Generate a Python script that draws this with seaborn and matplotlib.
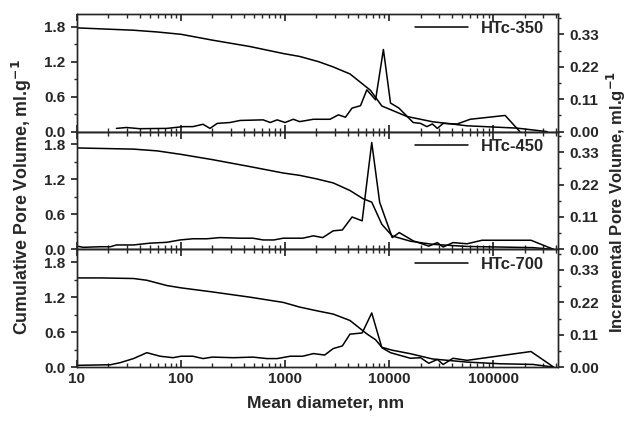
import matplotlib
matplotlib.use("Agg")
import matplotlib.pyplot as plt
from matplotlib.ticker import FixedLocator, MultipleLocator, FuncFormatter, NullFormatter, LogLocator
import seaborn as sns

# --- data (pore diameter in nm) ---
SAMPLES = ["HTc-350", "HTc-450", "HTc-700"]

cum_350_x = [10, 35, 59, 100, 200, 460, 960, 1380, 2100, 2900, 4200, 6600, 8500,
             14800, 26000, 56000, 170000, 330000]
cum_350_y = [1.78, 1.74, 1.71, 1.67, 1.57, 1.46, 1.34, 1.29, 1.20, 1.11, 0.99, 0.71,
             0.44, 0.26, 0.17, 0.10, 0.06, 0.0]
inc_350_x = [24, 30, 40, 73, 105, 130, 163, 190, 223, 296, 370, 616, 720, 840, 1000,
             1200, 1380, 1870, 2700, 3250, 3800, 4400, 5300, 6100, 7400, 8800, 10300,
             12400, 17000, 20000, 23000, 26000, 29000, 33000, 45000, 60000, 130000, 180000]
inc_350_y = [0.011, 0.014, 0.010, 0.011, 0.017, 0.017, 0.025, 0.011, 0.028, 0.031,
             0.038, 0.040, 0.031, 0.040, 0.031, 0.042, 0.034, 0.042, 0.042, 0.057,
             0.049, 0.080, 0.088, 0.142, 0.108, 0.279, 0.097, 0.080, 0.031, 0.028,
             0.017, 0.026, 0.011, 0.028, 0.026, 0.042, 0.055, 0.0]

cum_450_x = [10, 35, 59, 100, 200, 460, 960, 1380, 2000, 2900, 4200, 5600, 6800, 8500,
             10700, 16000, 26000, 56000, 240000, 380000]
cum_450_y = [1.74, 1.72, 1.69, 1.63, 1.54, 1.42, 1.31, 1.27, 1.21, 1.14, 1.01, 0.87,
             0.81, 0.43, 0.23, 0.14, 0.087, 0.05, 0.03, 0.0]
inc_450_x = [10, 11.5, 17, 21, 24, 35, 50, 73, 98, 130, 177, 237, 370, 490, 616, 780,
             960, 1480, 1870, 2300, 2900, 3550, 4400, 5500, 6800, 8100, 10700, 12500,
             17000, 24000, 29000, 33000, 41000, 56000, 78000, 230000, 380000]
inc_450_y = [0.011, 0.007, 0.009, 0.009, 0.015, 0.015, 0.021, 0.024, 0.032, 0.036,
             0.036, 0.040, 0.038, 0.038, 0.032, 0.032, 0.038, 0.038, 0.046, 0.040,
             0.063, 0.066, 0.110, 0.097, 0.363, 0.160, 0.040, 0.057, 0.029, 0.011,
             0.023, 0.008, 0.023, 0.019, 0.031, 0.031, 0.0]

cum_700_x = [10, 17, 35, 47, 73, 100, 200, 460, 960, 1380, 2100, 2900, 4200, 6100,
             7400, 8500, 10700, 16000, 26000, 56000, 117000, 240000, 380000]
cum_700_y = [1.53, 1.53, 1.52, 1.49, 1.40, 1.36, 1.29, 1.20, 1.11, 1.03, 0.96, 0.91,
             0.80, 0.57, 0.47, 0.34, 0.29, 0.23, 0.14, 0.086, 0.057, 0.046, 0.0]
inc_700_x = [10, 21, 26, 35, 47, 63, 84, 100, 130, 163, 200, 320, 490, 670, 840, 1120,
             1480, 1870, 2400, 2900, 3550, 4200, 5500, 6800, 8500, 10300, 16000, 20000,
             24000, 29000, 33000, 41000, 56000, 230000, 380000]
inc_700_y = [0.006, 0.008, 0.015, 0.029, 0.049, 0.037, 0.032, 0.037, 0.037, 0.029,
             0.034, 0.032, 0.034, 0.029, 0.029, 0.037, 0.037, 0.046, 0.041, 0.063,
             0.072, 0.112, 0.116, 0.184, 0.066, 0.049, 0.030, 0.032, 0.013, 0.026,
             0.009, 0.030, 0.023, 0.053, 0.0]

CUM = [(cum_350_x, cum_350_y), (cum_450_x, cum_450_y), (cum_700_x, cum_700_y)]
INC = [(inc_350_x, inc_350_y), (inc_450_x, inc_450_y), (inc_700_x, inc_700_y)]

LEFT_TICKS = [0.0, 0.6, 1.2, 1.8]
RIGHT_TICKS = [0.0, 0.11, 0.22, 0.33]
X_TICKS = [10, 100, 1000, 10000, 100000]

sns.set_theme(style="ticks")
plt.rcParams.update({
    "font.family": ["Liberation Sans", "DejaVu Sans"],
    "font.weight": "bold",
    "font.size": 11,
    "axes.linewidth": 1.0,
    "xtick.direction": "in",
    "ytick.direction": "out",
    "xtick.major.size": 5,
    "xtick.minor.size": 3,
    "ytick.major.size": 4.5,
    "ytick.minor.size": 2.5,
})

fig, axes = plt.subplots(3, 1, sharex=True, figsize=(6.3, 4.21), dpi=100)
fig.subplots_adjust(left=0.122, right=0.886, top=0.967, bottom=0.128, hspace=0)

for ax, name, (cx, cy), (ix, iy) in zip(axes, SAMPLES, CUM, INC):
    ax2 = ax.twinx()
    sns.lineplot(x=cx, y=cy, ax=ax, color="black", lw=1.1, estimator=None,
                 sort=False, label=name)
    sns.lineplot(x=ix, y=iy, ax=ax2, color="black", lw=1.1, estimator=None,
                 sort=False, legend=False)

    ax.set_xscale("log")
    ax.set_xlim(10, 4.2e5)
    ax.set_ylim(0, 2.02)
    ax2.set_ylim(0, 0.40)

    ax.yaxis.set_major_locator(FixedLocator(LEFT_TICKS))
    ax.yaxis.set_minor_locator(MultipleLocator(0.3))
    ax.yaxis.set_major_formatter(FuncFormatter(lambda v, p: f"{v:.1f}"))
    ax2.yaxis.set_major_locator(FixedLocator(RIGHT_TICKS))
    ax2.yaxis.set_minor_locator(MultipleLocator(0.055))
    ax2.yaxis.set_major_formatter(FuncFormatter(lambda v, p: f"{v:.2f}"))

    ax.xaxis.set_major_locator(FixedLocator(X_TICKS))
    ax.xaxis.set_minor_locator(LogLocator(base=10, subs=range(2, 10), numticks=20))
    ax.xaxis.set_minor_formatter(NullFormatter())
    ax.xaxis.set_major_formatter(FuncFormatter(lambda v, p: f"{int(round(v))}"))
    ax.tick_params(axis="x", which="both", top=True)
    ax.tick_params(axis="both", which="major", labelsize=11)
    ax2.tick_params(axis="y", which="major", labelsize=11)
    for lab in ax.get_yticklabels() + ax2.get_yticklabels() + ax.get_xticklabels():
        lab.set_fontweight("bold")

    ax.set_xlabel("")
    ax.set_ylabel("")
    ax2.set_ylabel("")
    ax.legend(loc="upper right", bbox_to_anchor=(0.985, 0.995), frameon=False,
              handlelength=3.2, borderaxespad=0, prop={"weight": "bold", "size": 12})

fig.text(0.035, 0.532, "Cumulative Pore Volume, ml.g$^{\\mathbf{-1}}$", rotation=90,
         ha="center", va="center", fontweight="bold", fontsize=12.8)
fig.text(0.978, 0.52, "Incremental Pore Volume, ml.g$^{\\mathbf{-1}}$", rotation=90,
         ha="center", va="center", fontweight="bold", fontsize=12)
fig.text(0.517, 0.043, "Mean diameter, nm", ha="center", va="center",
         fontweight="bold", fontsize=12.6)

fig.savefig("out.png", dpi=100)
